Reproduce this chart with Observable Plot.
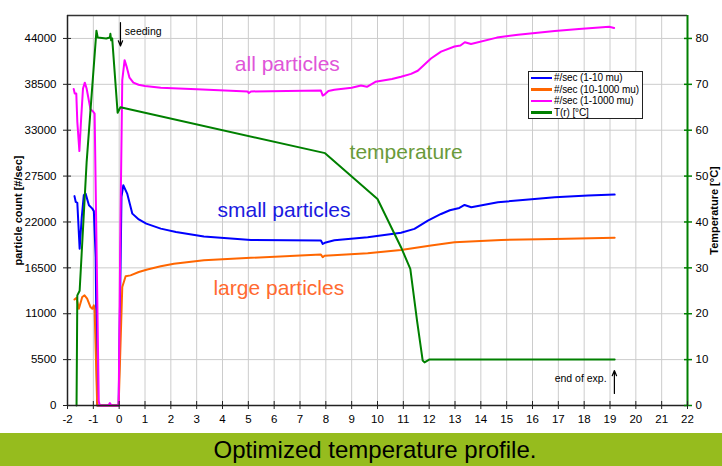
<!DOCTYPE html>
<html><head><meta charset="utf-8">
<script src="https://cdn.jsdelivr.net/npm/d3@7"></script>
<script src="https://cdn.jsdelivr.net/npm/@observablehq/plot@0.6"></script>
<style>
body{margin:0;background:#fff;font-family:"Liberation Sans",Arial,sans-serif;}
#wrap{position:relative;width:722px;height:466px;overflow:hidden;background:#fff}
#banner{position:absolute;left:0;top:433px;width:722px;height:33px;background:#96bc1e;color:#000;font-size:24px;text-align:center;line-height:34px;box-sizing:border-box;padding-left:28px}
#legend{position:absolute;left:528px;top:71px;width:113px;height:46px;border:1.5px solid #222;background:#fff;font-size:10px;color:#000;white-space:nowrap;overflow:hidden}
#legend .row{display:flex;align-items:center;height:11.5px;margin-left:2px;letter-spacing:-0.1px}
#legend .sw{width:21px;height:2.5px;margin-right:2px;flex:none}
</style></head><body>
<div id="wrap"><div id="chart"></div><div id="legend"></div><div id="banner">Optimized temperature profile.</div></div>
<script>
// ---- data (x = time, y = value) ----
const smallParticles = [[-1.73,25100],[-1.68,24400],[-1.62,24300],[-1.53,18800],[-1.45,22500],[-1.37,25200],[-1.30,25400],[-1.17,24000],[-1.04,23600],[-0.98,23300],[-0.91,17800],[-0.85,0],[-0.02,0],[0.09,25000],[0.16,26400],[0.31,25400],[0.51,23000],[0.76,22300],[1.05,21800],[1.61,21200],[2.2,20800],[3.28,20250],[5.10,19850],[7.81,19770],[7.88,19370],[7.96,19500],[8.33,19800],[9.62,20160],[10.91,20700],[11.43,21170],[11.95,22160],[12.46,22960],[12.8,23400],[13.17,23680],[13.37,24040],[13.63,23760],[14.66,24360],[16.08,24760],[16.86,24960],[18.15,25160],[19.18,25280]];
const largeParticles = [[-1.73,12700],[-1.65,12900],[-1.56,11600],[-1.43,13000],[-1.34,13200],[-1.24,12800],[-1.11,11800],[-1.04,11600],[-0.98,12000],[-0.95,11400],[-0.85,0],[-0.02,0],[0.12,14200],[0.25,15500],[0.44,15600],[0.76,16000],[1.09,16300],[1.61,16700],[2.12,17000],[3.28,17400],[5.10,17700],[7.81,18090],[7.88,17770],[7.95,17950],[9.62,18250],[10.91,18650],[12.07,19170],[12.98,19560],[14.79,19850],[16.86,19970],[19.18,20100]];
const allParticles = [[-1.76,37950],[-1.72,37400],[-1.66,37400],[-1.62,34000],[-1.54,30500],[-1.47,34500],[-1.40,38000],[-1.33,38700],[-1.26,38000],[-1.11,35500],[-1.0,35200],[-0.95,35000],[-0.79,500],[-0.75,0],[-0.42,0],[-0.36,300],[-0.30,0],[-0.02,0],[0.05,22000],[0.12,39000],[0.21,41400],[0.30,40500],[0.40,39300],[0.55,38700],[0.75,38450],[1.0,38300],[1.61,38100],[3.0,37900],[4.97,37650],[5.02,37450],[5.1,37650],[6.5,37700],[7.81,37750],[7.88,37150],[7.96,37300],[8.1,37700],[8.33,37850],[9.0,38100],[9.36,38350],[9.59,38200],[9.92,38800],[10.56,39150],[10.91,39400],[11.3,39750],[11.56,40130],[12.07,41600],[12.46,42420],[12.98,43030],[13.21,43150],[13.38,43550],[13.62,43330],[14.62,44100],[15.44,44450],[16.86,44880],[17.8,45130],[18.97,45400],[19.16,45250]];
const temperature = [[-1.65,0],[-1.62,24],[-1.53,25],[-1.26,53],[-0.88,81.7],[-0.83,80.2],[-0.5,80],[-0.36,80.2],[-0.34,81],[-0.31,79.6],[-0.27,80],[-0.06,63.8],[0.05,65],[7.97,55],[10.0,45],[10.91,34.5],[11.27,29.8],[11.53,18.5],[11.75,9.8],[11.82,9.4],[12.0,10],[19.18,10]];

const seriesNames = ["#/sec (1-10 mu)", "#/sec (10-1000 mu)", "#/sec (1-1000 mu)", "T(r) [°C]"];
const seriesColors = ["#0000ff", "#ff6600", "#ff00ff", "#008000"];

const xTicks = [-2,-1,0,1,2,3,4,5,6,7,8,9,10,11,12,13,14,15,16,17,18,19,20,21,22];
const countTicks = [0,5500,11000,16500,22000,27500,33000,38500,44000];
const tempTicks = [0,10,20,30,40,50,60,70,80];
const xDomain = [-2, 22];
const countMax = 46750;
const tempMax = 85;

const annText = ["all particles", "temperature", "small particles", "large particles"];
const annX = [6.51, 11.11, 6.38, 6.18];
const annY = [40850, 30310, 23360, 14020];
const annColors = ["#e055d8", "#6a9a3a", "#1a1ae0", "#ff6a30"];

const noteText = ["seeding", "end of exp."];
const noteX = [0.22, 18.87];
const noteY = [44800, 3230];
const arrowX = [0.05, 19.17];
const arrowFrom = [45900, 1440];
const arrowTo = [43100, 4190];

const yLeftLabel = "particle count [#/sec]";
const yRightLabel = "Temperature [°C]";

// ---- build ----
const k = countMax / tempMax;
const toObj = arr => arr.map(([x, y]) => ({x, y}));
const tempData = temperature.map(([x, t]) => ({x, y: t * k}));
const ann = annText.map((t, i) => ({t, x: annX[i], y: annY[i], c: annColors[i]}));
const notes = noteText.map((t, i) => ({t, x: noteX[i], y: noteY[i]}));
const arrows = arrowX.map((x, i) => ({x, y1: arrowFrom[i], y2: arrowTo[i]}));

const chart = Plot.plot({
  width: 722, height: 433,
  marginLeft: 67, marginRight: 35, marginTop: 15, marginBottom: 28,
  style: {fontFamily: "Liberation Sans, Arial, sans-serif", fontSize: "11.5px", background: "white", color: "#000"},
  x: {domain: xDomain, axis: null},
  y: {domain: [0, countMax], axis: null},
  marks: [
    Plot.gridX(xTicks, {stroke: "#cccccc", strokeOpacity: 1}),
    Plot.gridY(countTicks, {stroke: "#cccccc", strokeOpacity: 1}),
    Plot.ruleY([countMax], {stroke: "#333", strokeWidth: 1.5}),
    Plot.line(toObj(smallParticles), {x: "x", y: "y", stroke: seriesColors[0], strokeWidth: 2}),
    Plot.line(toObj(largeParticles), {x: "x", y: "y", stroke: seriesColors[1], strokeWidth: 2}),
    Plot.line(toObj(allParticles), {x: "x", y: "y", stroke: seriesColors[2], strokeWidth: 2}),
    Plot.line(tempData, {x: "x", y: "y", stroke: seriesColors[3], strokeWidth: 2}),
    Plot.ruleX([xDomain[0]], {stroke: "#222", strokeWidth: 1.5}),
    Plot.ruleY([0], {stroke: "#222", strokeWidth: 1.5}),
    Plot.ruleX([xDomain[1]], {stroke: "#008000", strokeWidth: 2}),
    Plot.axisY(countTicks, {anchor: "left", tickSize: 8, dx: 4, tickPadding: 7, tickFormat: d => String(d), label: null, stroke: "#222"}),
    Plot.axisY(tempTicks.map(t => t * k), {anchor: "right", tickSize: 8, dx: -4, tickPadding: 4, tickFormat: d => String(Math.round(d / k)), label: null, stroke: "#008000", strokeWidth: 1.5}),
    Plot.axisX(xTicks, {anchor: "bottom", tickSize: 8, dy: -4, tickPadding: 5, tickFormat: d => String(d), label: null, stroke: "#222"}),
    Plot.text(ann, {x: "x", y: "y", text: "t", fill: "c", fontSize: 21, textAnchor: "middle"}),
    Plot.text(notes.slice(0,1), {x: "x", y: "y", text: "t", fontSize: 10.5, textAnchor: "start"}),
    Plot.text(notes.slice(1), {x: "x", y: "y", text: "t", fontSize: 10.5, textAnchor: "end"}),
    Plot.arrow(arrows, {x: "x", y1: "y1", y2: "y2", stroke: "#000", strokeWidth: 1.2, headLength: 7, headAngle: 45}),
    Plot.text([yLeftLabel], {frameAnchor: "left", textAnchor: "middle", rotate: -90, dx: -49, fontWeight: "bold", fontSize: 11}),
    Plot.text([yRightLabel], {frameAnchor: "right", textAnchor: "middle", rotate: -90, dx: 27, fontWeight: "bold", fontSize: 11})
  ]
});
document.getElementById("chart").appendChild(chart);

const legend = d3.select("#legend");
seriesNames.forEach((n, i) => {
  const row = legend.append("div").attr("class", "row");
  row.append("div").attr("class", "sw").style("background", seriesColors[i]);
  row.append("span").text(n);
});
</script>
</body></html>
